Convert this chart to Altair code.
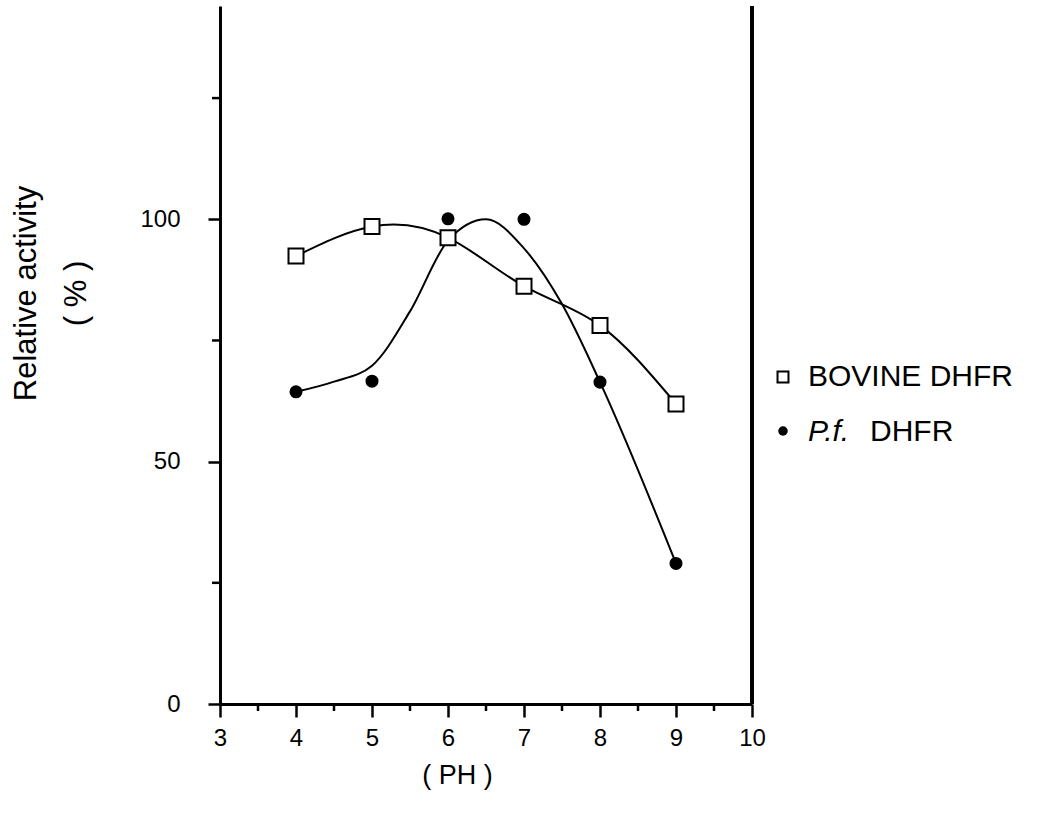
import altair as alt
import pandas as pd

# ---- data ----
ph = [4, 5, 6, 7, 8, 9]
bovine = [92.4, 98.5, 96.2, 86.2, 78.1, 61.9]
pf = [64.4, 66.6, 100.1, 100.0, 66.4, 29.0]
# hand-drawn fitted curve for P.f. DHFR
pf_curve_ph = [4, 4.5, 5, 5.5, 6, 6.5, 7, 7.5, 8, 9]
pf_curve_val = [64.4, 66.5, 69.8, 81.0, 95.6, 100.0, 94.0, 82.5, 66.4, 29.0]

x_major = [3, 4, 5, 6, 7, 8, 9, 10]
x_minor = [3.5, 4.5, 5.5, 6.5, 7.5, 8.5, 9.5]
y_major = [0, 50, 100]
y_minor = [25, 75, 125]
legend_labels = ["BOVINE DHFR", "P.f.", "DHFR"]

W, H = 532, 698
FONT = "Liberation Sans"

df_b = pd.DataFrame({"ph": ph, "v": bovine})
df_p = pd.DataFrame({"ph": ph, "v": pf})
df_pc = pd.DataFrame({"ph": pf_curve_ph, "v": pf_curve_val})
df_xm = pd.DataFrame({"ph": x_minor})
df_ym = pd.DataFrame({"v": y_minor})

xs = alt.Scale(domain=[3, 10], nice=False, zero=False)
ys = alt.Scale(domain=[0, 144], nice=False)

x_axis = alt.Axis(values=x_major, format="d", tickSize=13, tickWidth=2.5, labelFontSize=24,
                  labelPadding=9, title="( PH )", titleFontSize=27,
                  titleFontWeight="normal", titleX=237, titleY=71,
                  titleBaseline="middle", titleAlign="center", grid=False,
                  domainWidth=3, labelFlush=False)
y_axis = alt.Axis(values=y_major, format="d", tickSize=12, tickWidth=2.5, labelFontSize=24,
                  labelPadding=28, title=["Relative activity", "( % )"],
                  titleFontSize=31, titleFontWeight="normal", titleAngle=-90,
                  titleX=-194, titleY=287, titleAlign="center",
                  titleBaseline="middle", titleLineHeight=50, grid=False,
                  domainWidth=3, labelFlush=False)

base_x = alt.X("ph:Q", scale=xs, axis=x_axis)
base_y = alt.Y("v:Q", scale=ys, axis=y_axis)

bov_line = alt.Chart(df_b).mark_line(interpolate="natural", color="black", strokeWidth=2).encode(
    x=base_x, y=base_y)
pf_line = alt.Chart(df_pc).mark_line(interpolate="monotone", color="black", strokeWidth=2).encode(
    x=alt.X("ph:Q", scale=xs), y=alt.Y("v:Q", scale=ys))
bov_pts = alt.Chart(df_b).mark_point(shape="square", filled=True, fill="white", stroke="black",
                                     strokeWidth=2, size=225, opacity=1).encode(
    x=alt.X("ph:Q", scale=xs), y=alt.Y("v:Q", scale=ys))
pf_pts = alt.Chart(df_p).mark_circle(size=170, color="black", opacity=1).encode(
    x=alt.X("ph:Q", scale=xs), y=alt.Y("v:Q", scale=ys))

x_minor_ticks = alt.Chart(df_xm).mark_rule(color="black", strokeWidth=2.5).encode(
    x=alt.X("ph:Q", scale=xs), y=alt.value(H), y2=alt.value(H + 7))
y_minor_ticks = alt.Chart(df_ym).mark_rule(color="black", strokeWidth=2.5).encode(
    y=alt.Y("v:Q", scale=ys), x=alt.value(-8), x2=alt.value(0))
right_border = alt.Chart(df_b).mark_rule(color="black", strokeWidth=3).encode(
    x=alt.datum(10, scale=xs), y=alt.value(0), y2=alt.value(H))

# ---- legend ----
leg_sq = alt.Chart(pd.DataFrame({"t": [legend_labels[0]]})).mark_point(
    shape="square", filled=True, fill="white", stroke="black", strokeWidth=2, size=120, opacity=1
).encode(x=alt.value(563), y=alt.value(371))
leg_ci = alt.Chart(pd.DataFrame({"t": [legend_labels[1]]})).mark_circle(
    size=90, color="black", opacity=1).encode(x=alt.value(563), y=alt.value(425))
leg_t1 = alt.Chart(pd.DataFrame({"t": [legend_labels[0]]})).mark_text(
    align="left", baseline="middle", fontSize=30, font=FONT, color="black").encode(
    text="t:N", x=alt.value(588), y=alt.value(371))
leg_t2 = alt.Chart(pd.DataFrame({"t": [legend_labels[1]]})).mark_text(
    align="left", baseline="middle", fontSize=30, font=FONT, fontStyle="italic", color="black").encode(
    text="t:N", x=alt.value(588), y=alt.value(426))
leg_t3 = alt.Chart(pd.DataFrame({"t": [legend_labels[2]]})).mark_text(
    align="left", baseline="middle", fontSize=30, font=FONT, color="black").encode(
    text="t:N", x=alt.value(650), y=alt.value(426))

chart = alt.layer(
    bov_line, pf_line, x_minor_ticks, y_minor_ticks, right_border,
    bov_pts, pf_pts, leg_sq, leg_ci, leg_t1, leg_t2, leg_t3
).properties(
    width=W, height=H,
    autosize=alt.AutoSizeParams(type="none"),
    padding={"left": 220, "top": 6, "right": 296, "bottom": 118},
    background="white",
).configure_view(stroke=None).configure_axis(
    labelFont=FONT, titleFont=FONT, labelColor="black", titleColor="black",
    domainColor="black", tickColor="black"
)

chart.save("out.html", embed_options={"renderer": "svg", "actions": False})
